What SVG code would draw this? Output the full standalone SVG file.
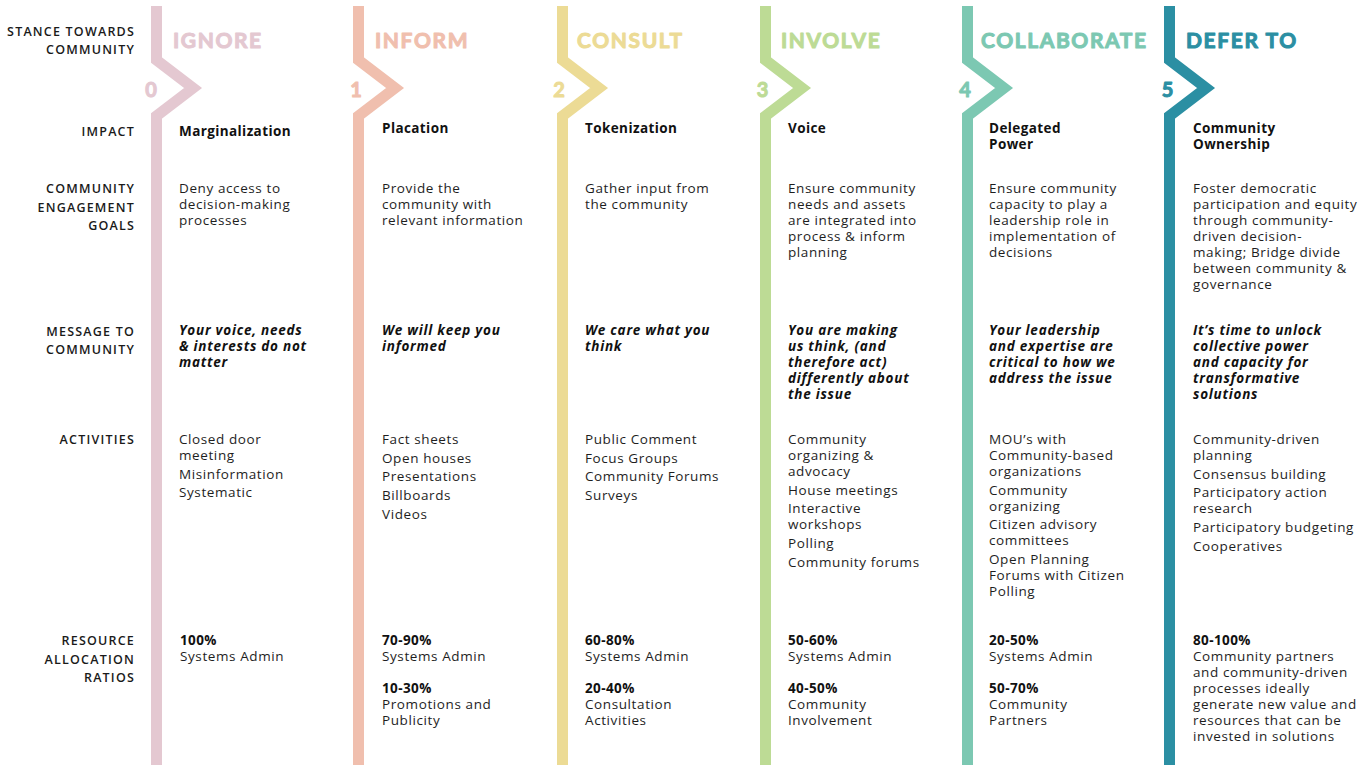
<svg xmlns="http://www.w3.org/2000/svg" width="1371" height="765" viewBox="0 0 1371 765">
<style>
.bg{fill:#ffffff}
polyline.chev{fill:none;stroke-width:11;stroke-linejoin:miter;stroke-miterlimit:6}
text{stroke-width:0}
.hd{font-family:Lato,"Open Sans",sans-serif;font-weight:700;font-size:21px;letter-spacing:1.6px}
.num{font-family:Lato,"Open Sans",sans-serif;font-weight:700;font-size:20px;text-anchor:middle}
text.hd,text.num{stroke-width:1px;stroke-linejoin:round}
.lbl{font-family:"Open Sans","Noto Sans",sans-serif;font-weight:600;font-size:12.5px;letter-spacing:1.2px;fill:#1a1a1a;text-anchor:end}
.b{font-family:"Open Sans","Noto Sans",sans-serif;font-weight:400;font-size:13.5px;letter-spacing:0.6px;fill:#1e1e1e}
.bb{font-family:"Open Sans","Noto Sans",sans-serif;font-weight:700;font-size:13.5px;letter-spacing:0.4px;fill:#111}
.bi{font-family:"Open Sans","Noto Sans",sans-serif;font-weight:700;font-style:italic;font-size:13.5px;letter-spacing:0.75px;fill:#111}
.c0{stroke:#e4c8d1;fill:#e4c8d1}
.c1{stroke:#f0bfae;fill:#f0bfae}
.c2{stroke:#ecdb95;fill:#ecdb95}
.c3{stroke:#bddb95;fill:#bddb95}
.c4{stroke:#7cc8b2;fill:#7cc8b2}
.c5{stroke:#2b8fa3;fill:#2b8fa3}
</style>
<rect class="bg" x="0" y="0" width="1371" height="765"/>

<g id="row-labels">
<text class="lbl" x="135" y="36">STANCE TOWARDS</text>
<text class="lbl" x="135" y="54">COMMUNITY</text>
<text class="lbl" x="135" y="136">IMPACT</text>
<text class="lbl" x="135" y="193">COMMUNITY</text>
<text class="lbl" x="135" y="211.5">ENGAGEMENT</text>
<text class="lbl" x="135" y="230">GOALS</text>
<text class="lbl" x="135" y="336">MESSAGE TO</text>
<text class="lbl" x="135" y="354">COMMUNITY</text>
<text class="lbl" x="135" y="444">ACTIVITIES</text>
<text class="lbl" x="135" y="645">RESOURCE</text>
<text class="lbl" x="135" y="664">ALLOCATION</text>
<text class="lbl" x="135" y="682">RATIOS</text>
</g>

<g id="connectors">
<polyline class="chev c0" points="156.5,6 156.5,60 193,88 156.5,116 156.5,770"/>
<polyline class="chev c1" points="358.5,6 358.5,60 395,88 358.5,116 358.5,770"/>
<polyline class="chev c2" points="562.5,6 562.5,60 599,88 562.5,116 562.5,770"/>
<polyline class="chev c3" points="765.5,6 765.5,60 802,88 765.5,116 765.5,770"/>
<polyline class="chev c4" points="967.5,6 967.5,60 1004,88 967.5,116 967.5,770"/>
<polyline class="chev c5" points="1169.5,6 1169.5,60 1206,88 1169.5,116 1169.5,770"/>
</g>

<g id="col-ignore">
<text class="hd c0" x="173" y="48">IGNORE</text>
<text class="num c0" x="151" y="97">0</text>
<text class="bb" x="179" y="136">Marginalization</text>
<text class="b" x="179" y="193">Deny access to</text>
<text class="b" x="179" y="209">decision-making</text>
<text class="b" x="179" y="225">processes</text>
<text class="bi" x="179" y="335">Your voice, needs</text>
<text class="bi" x="179" y="351">&amp; interests do not</text>
<text class="bi" x="179" y="367">matter</text>
<text class="b" x="179" y="444">Closed door</text>
<text class="b" x="179" y="460">meeting</text>
<text class="b" x="179" y="479">Misinformation</text>
<text class="b" x="179" y="497">Systematic</text>
<text class="bb" x="180" y="645">100%</text>
<text class="b" x="180" y="661">Systems Admin</text>
</g>

<g id="col-inform">
<text class="hd c1" x="375" y="48">INFORM</text>
<text class="num c1" x="356" y="97">1</text>
<text class="bb" x="382" y="133">Placation</text>
<text class="b" x="382" y="193">Provide the</text>
<text class="b" x="382" y="209">community with</text>
<text class="b" x="382" y="225">relevant information</text>
<text class="bi" x="382" y="335">We will keep you</text>
<text class="bi" x="382" y="351">informed</text>
<text class="b" x="382" y="444">Fact sheets</text>
<text class="b" x="382" y="463">Open houses</text>
<text class="b" x="382" y="481">Presentations</text>
<text class="b" x="382" y="500">Billboards</text>
<text class="b" x="382" y="519">Videos</text>
<text class="bb" x="382" y="645">70-90%</text>
<text class="b" x="382" y="661">Systems Admin</text>
<text class="bb" x="382" y="693">10-30%</text>
<text class="b" x="382" y="709">Promotions and</text>
<text class="b" x="382" y="725">Publicity</text>
</g>

<g id="col-consult">
<text class="hd c2" x="577" y="48">CONSULT</text>
<text class="num c2" x="559" y="97">2</text>
<text class="bb" x="585" y="133">Tokenization</text>
<text class="b" x="585" y="193">Gather input from</text>
<text class="b" x="585" y="209">the community</text>
<text class="bi" x="585" y="335">We care what you</text>
<text class="bi" x="585" y="351">think</text>
<text class="b" x="585" y="444">Public Comment</text>
<text class="b" x="585" y="463">Focus Groups</text>
<text class="b" x="585" y="481">Community Forums</text>
<text class="b" x="585" y="500">Surveys</text>
<text class="bb" x="585" y="645">60-80%</text>
<text class="b" x="585" y="661">Systems Admin</text>
<text class="bb" x="585" y="693">20-40%</text>
<text class="b" x="585" y="709">Consultation</text>
<text class="b" x="585" y="725">Activities</text>
</g>

<g id="col-involve">
<text class="hd c3" x="781" y="48">INVOLVE</text>
<text class="num c3" x="762.5" y="97">3</text>
<text class="bb" x="788" y="133">Voice</text>
<text class="b" x="788" y="193">Ensure community</text>
<text class="b" x="788" y="209">needs and assets</text>
<text class="b" x="788" y="225">are integrated into</text>
<text class="b" x="788" y="241">process &amp; inform</text>
<text class="b" x="788" y="257">planning</text>
<text class="bi" x="788" y="335">You are making</text>
<text class="bi" x="788" y="351">us think, (and</text>
<text class="bi" x="788" y="367">therefore act)</text>
<text class="bi" x="788" y="383">differently about</text>
<text class="bi" x="788" y="399">the issue</text>
<text class="b" x="788" y="444">Community</text>
<text class="b" x="788" y="460">organizing &amp;</text>
<text class="b" x="788" y="476">advocacy</text>
<text class="b" x="788" y="495">House meetings</text>
<text class="b" x="788" y="513">Interactive</text>
<text class="b" x="788" y="529">workshops</text>
<text class="b" x="788" y="548">Polling</text>
<text class="b" x="788" y="567">Community forums</text>
<text class="bb" x="788" y="645">50-60%</text>
<text class="b" x="788" y="661">Systems Admin</text>
<text class="bb" x="788" y="693">40-50%</text>
<text class="b" x="788" y="709">Community</text>
<text class="b" x="788" y="725">Involvement</text>
</g>

<g id="col-collaborate">
<text class="hd c4" x="981" y="48">COLLABORATE</text>
<text class="num c4" x="965" y="97">4</text>
<text class="bb" x="989" y="133">Delegated</text>
<text class="bb" x="989" y="149">Power</text>
<text class="b" x="989" y="193">Ensure community</text>
<text class="b" x="989" y="209">capacity to play a</text>
<text class="b" x="989" y="225">leadership role in</text>
<text class="b" x="989" y="241">implementation of</text>
<text class="b" x="989" y="257">decisions</text>
<text class="bi" x="989" y="335">Your leadership</text>
<text class="bi" x="989" y="351">and expertise are</text>
<text class="bi" x="989" y="367">critical to how we</text>
<text class="bi" x="989" y="383">address the issue</text>
<text class="b" x="989" y="444">MOU’s with</text>
<text class="b" x="989" y="460">Community-based</text>
<text class="b" x="989" y="476">organizations</text>
<text class="b" x="989" y="495">Community</text>
<text class="b" x="989" y="511">organizing</text>
<text class="b" x="989" y="529">Citizen advisory</text>
<text class="b" x="989" y="545">committees</text>
<text class="b" x="989" y="564">Open Planning</text>
<text class="b" x="989" y="580">Forums with Citizen</text>
<text class="b" x="989" y="596">Polling</text>
<text class="bb" x="989" y="645">20-50%</text>
<text class="b" x="989" y="661">Systems Admin</text>
<text class="bb" x="989" y="693">50-70%</text>
<text class="b" x="989" y="709">Community</text>
<text class="b" x="989" y="725">Partners</text>
</g>

<g id="col-defer-to">
<text class="hd c5" x="1186" y="48">DEFER TO</text>
<text class="num c5" x="1167.5" y="97">5</text>
<text class="bb" x="1193" y="133">Community</text>
<text class="bb" x="1193" y="149">Ownership</text>
<text class="b" x="1193" y="193">Foster democratic</text>
<text class="b" x="1193" y="209">participation and equity</text>
<text class="b" x="1193" y="225">through community-</text>
<text class="b" x="1193" y="241">driven decision-</text>
<text class="b" x="1193" y="257">making; Bridge divide</text>
<text class="b" x="1193" y="273">between community &amp;</text>
<text class="b" x="1193" y="289">governance</text>
<text class="bi" x="1193" y="335">It’s time to unlock</text>
<text class="bi" x="1193" y="351">collective power</text>
<text class="bi" x="1193" y="367">and capacity for</text>
<text class="bi" x="1193" y="383">transformative</text>
<text class="bi" x="1193" y="399">solutions</text>
<text class="b" x="1193" y="444">Community-driven</text>
<text class="b" x="1193" y="460">planning</text>
<text class="b" x="1193" y="479">Consensus building</text>
<text class="b" x="1193" y="497">Participatory action</text>
<text class="b" x="1193" y="513">research</text>
<text class="b" x="1193" y="532">Participatory budgeting</text>
<text class="b" x="1193" y="551">Cooperatives</text>
<text class="bb" x="1193" y="645">80-100%</text>
<text class="b" x="1193" y="661">Community partners</text>
<text class="b" x="1193" y="677">and community-driven</text>
<text class="b" x="1193" y="693">processes ideally</text>
<text class="b" x="1193" y="709">generate new value and</text>
<text class="b" x="1193" y="725">resources that can be</text>
<text class="b" x="1193" y="741">invested in solutions</text>
</g>
</svg>
